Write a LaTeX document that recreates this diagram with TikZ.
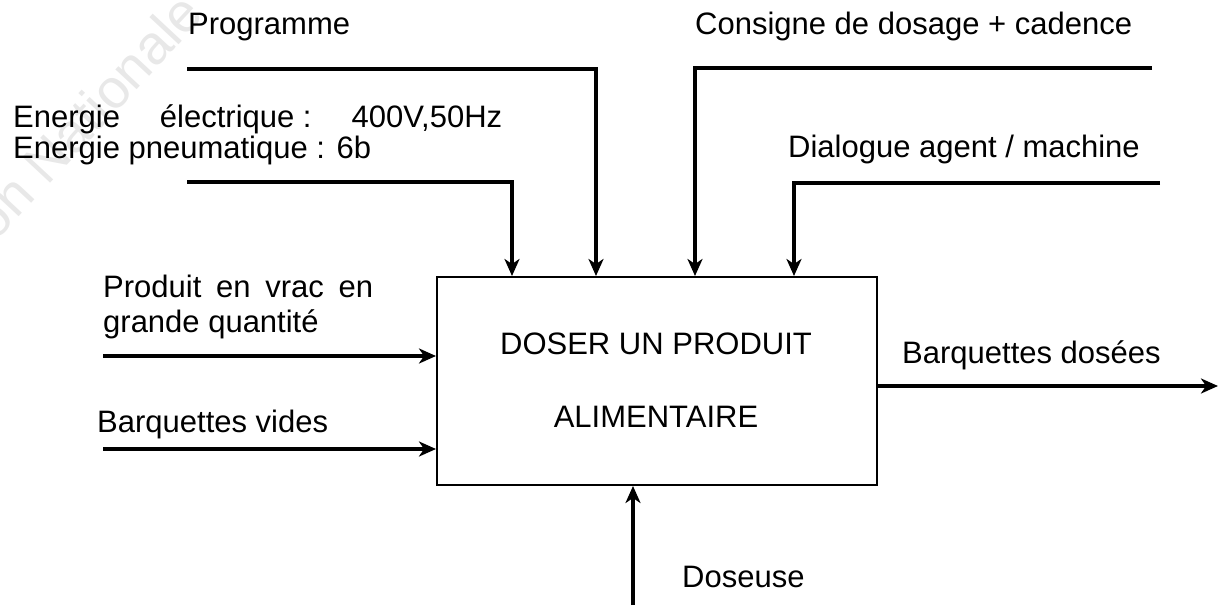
\documentclass[tikz,border=0pt]{standalone}
\usepackage{fontspec}
\setmainfont{Liberation Sans}
\usetikzlibrary{arrows.meta}
\definecolor{wm}{gray}{0.91}
\begin{document}
\begin{tikzpicture}[x=1pt,y=-1pt,
  lbl/.style={inner sep=0pt,anchor=base west,font=\fontsize{31}{31}\selectfont},
  clbl/.style={inner sep=0pt,anchor=base,font=\fontsize{31}{31}\selectfont},
  flow/.style={line width=3.5pt,-{Stealth[length=17pt,width=15pt,inset=5pt]}},
  fbox/.style={draw,line width=2pt,minimum width=440pt,minimum height=208pt,inner sep=0pt}]
\useasboundingbox (0,0) rectangle (1218,605);
\begin{scope}
\clip (0,0) rectangle (1218,605);
\node[inner sep=0pt,anchor=base east,rotate=47,text=wm,font=\fontsize{55}{55}\selectfont] (wmk) at (206,16) {\'Education Nationale};
\end{scope}
% box
\node[fbox] (box) at (657,381) {};
\node[clbl] (t1) at (656,354) {DOSER UN PRODUIT};
\node[clbl] (t2) at (656,427) {ALIMENTAIRE};
% labels
\node[lbl] (prog) at (188,34) {Programme};
\node[lbl] (cons) at (695,34) {Consigne de dosage + cadence};
\node[lbl] (ener1) at (13,127) {\makebox[489pt][s]{Energie\hfill électrique :\hfill 400V,50Hz}};
\node[lbl] (ener2) at (13,158) {Energie pneumatique : 6b};
\node[lbl] (dial) at (788,157) {Dialogue agent / machine};
\node[lbl] (prod1) at (103,297) {\makebox[270pt][s]{Produit en vrac en}};
\node[lbl] (prod2) at (103,332) {grande quantité};
\node[lbl] (bvid) at (97,432) {Barquettes vides};
\node[lbl] (bdos) at (902,363) {Barquettes dosées};
\node[lbl] (dos) at (682,587) {Doseuse};
% coordinates
\coordinate (sProg) at (187,69);
\coordinate (sEner) at (187,182);
\coordinate (sCons) at (1152,68);
\coordinate (sDial) at (1160,183);
\coordinate (xE) at (512,0);
\coordinate (xP) at (596,0);
\coordinate (xC) at (695,0);
\coordinate (xD) at (794,0);
\coordinate (sProd) at (103,356);
\coordinate (sBvid) at (103,449);
\coordinate (eOut) at (1218,386);
\coordinate (sDos) at (633,605);
% connectors
\draw[flow] (sEner) -| (xE |- box.north);
\draw[flow] (sProg) -| (xP |- box.north);
\draw[flow] (sCons) -| (xC |- box.north);
\draw[flow] (sDial) -| (xD |- box.north);
\draw[flow] (sProd) -- (sProd -| box.west);
\draw[flow] (sBvid) -- (sBvid -| box.west);
\draw[flow] (eOut -| box.east) -- (eOut);
\draw[flow] (sDos) -- (sDos |- box.south);
\end{tikzpicture}
\end{document}
